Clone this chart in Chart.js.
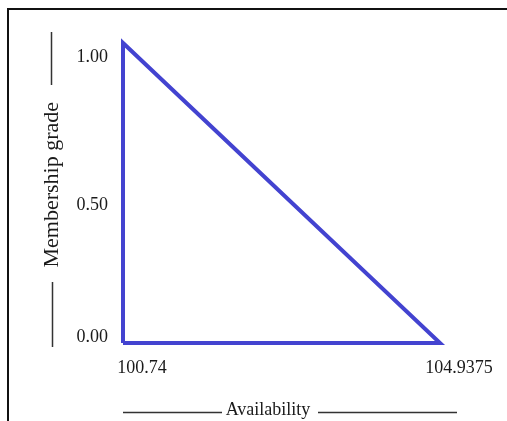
<!DOCTYPE html>
<html>
<head>
<meta charset="utf-8">
<script src="https://cdn.jsdelivr.net/npm/chart.js@4"></script>
<style>
  html, body { margin: 0; padding: 0; background: #fff; overflow: hidden; }
  #wrap { position: relative; width: 507px; height: 421px; }
  #frame {
    position: absolute; left: 7px; top: 8px; width: 600px; height: 600px;
    border-top: 2px solid #111; border-left: 2px solid #111;
  }
  canvas { position: absolute; left: 0; top: 0; }
</style>
</head>
<body>
<div id="wrap">
  <div id="frame"></div>
  <canvas id="chart" width="507" height="421"></canvas>
</div>
<script>
// triangular membership function, drawn as a closed outline
const availability = [100.74, 100.74, 104.9375, 100.74];
const membership = [0, 1, 0, 0];

const xTickValues = [100.74, 104.9375];
const xTickLabels = ["100.74", "104.9375"];
const yTickValues = [0, 0.5, 1];
const yTickLabels = ["0.00", "0.50", "1.00"];

const xTitle = "Availability";
const yTitle = "Membership grade";

const serif = "'Liberation Serif', 'Times New Roman', serif";
const ink = "#1a1a1a";

// small shifts so the labels sit where the original figure puts them
const yLabelNudge = [0.02, -0.04, -0.047];

// the little rules drawn beside the axis titles
const titleRules = {
  id: "titleRules",
  afterDraw(chart) {
    const ctx = chart.ctx;
    const a = chart.chartArea;
    ctx.save();
    ctx.strokeStyle = "#333";
    ctx.lineWidth = 1.5;
    ctx.beginPath();
    // y title
    ctx.moveTo(51.5, a.top - 11); ctx.lineTo(51.5, a.top + 42);
    ctx.moveTo(52.5, a.bottom - 61); ctx.lineTo(52.5, a.bottom + 4);
    // x title
    ctx.moveTo(a.left, 412.5); ctx.lineTo(a.left + 99, 412.5);
    ctx.moveTo(a.left + 195, 412.5); ctx.lineTo(a.left + 334, 412.5);
    ctx.stroke();
    ctx.restore();
  },
};

const points = availability.map((x, i) => ({ x: x, y: membership[i] }));

new Chart(document.getElementById("chart"), {
  type: "scatter",
  data: {
    datasets: [
      {
        data: points,
        showLine: true,
        borderColor: "#4343d0",
        borderWidth: 4,
        borderJoinStyle: "miter",
        pointRadius: 0,
        tension: 0,
        clip: false,
      },
    ],
  },
  options: {
    responsive: false,
    devicePixelRatio: 1,
    animation: false,
    events: [],
    layout: { padding: { top: 43, right: 67, bottom: 0, left: 0 } },
    plugins: {
      legend: { display: false },
      tooltip: { enabled: false },
    },
    scales: {
      x: {
        type: "linear",
        min: 100.74,
        max: 104.9375,
        grid: { display: false, drawTicks: false },
        border: { display: false },
        afterBuildTicks: (scale) => {
          scale.ticks = xTickValues.map((v) => ({ value: v }));
        },
        afterFit: (scale) => {
          scale.height = 78;
        },
        ticks: {
          autoSkip: false,
          maxRotation: 0,
          padding: 14,
          labelOffset: 19,
          color: ink,
          font: { family: serif, size: 18 },
          callback: (value, index) => xTickLabels[index],
        },
        title: {
          display: true,
          text: xTitle + "      ",
          color: ink,
          font: { family: serif, size: 18 },
          padding: { top: 0, bottom: 0 },
        },
      },
      y: {
        type: "linear",
        min: 0,
        max: 1,
        grid: { display: false, drawTicks: false },
        border: { display: false },
        afterBuildTicks: (scale) => {
          scale.ticks = yTickValues.map((v, i) => ({ value: v + yLabelNudge[i] }));
        },
        afterFit: (scale) => {
          scale.width = 123;
        },
        ticks: {
          autoSkip: false,
          padding: 15,
          color: ink,
          font: { family: serif, size: 18 },
          callback: (value, index) => yTickLabels[index],
        },
        title: {
          display: true,
          text: "   " + yTitle,
          color: ink,
          font: { family: serif, size: 22 },
          padding: { top: 39, bottom: 0 },
        },
      },
    },
  },
  plugins: [titleRules],
});
</script>
</body>
</html>
